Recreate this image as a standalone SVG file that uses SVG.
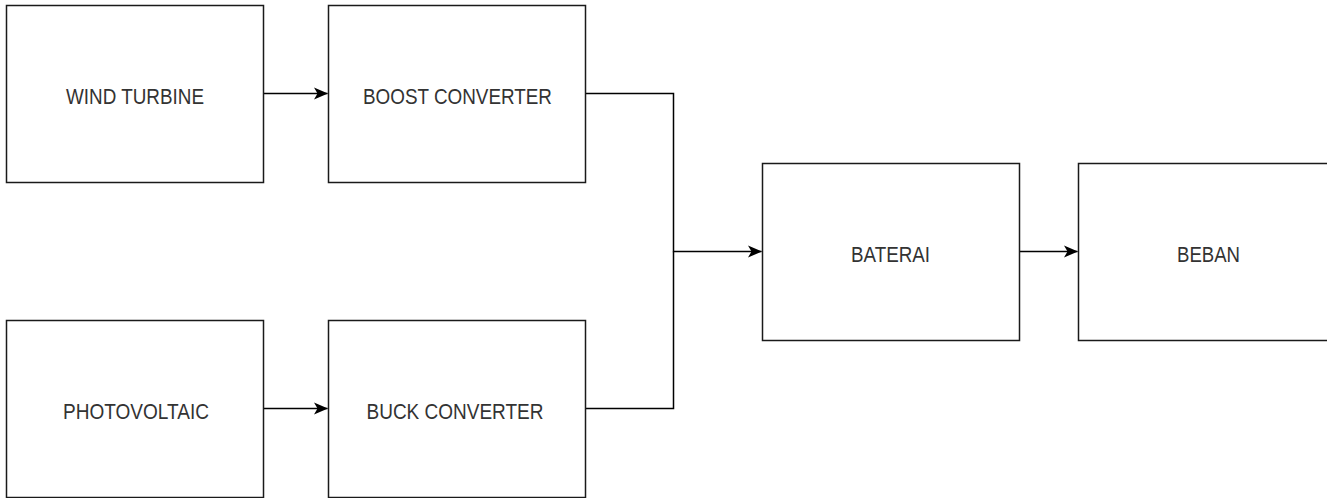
<svg xmlns="http://www.w3.org/2000/svg" width="1327" height="498" viewBox="0 0 1327 498">
<style>
.box{fill:#fff;stroke:#1a1a1a;stroke-width:1.5}
.lbl{font-family:"Liberation Sans",Arial,sans-serif;font-size:21.5px;fill:#333;text-anchor:middle}
.wire{fill:none;stroke:#000;stroke-width:1.5}
</style>
<defs>
<marker id="arr" viewBox="0 0 14 13" refX="13.5" refY="6.5" markerWidth="14" markerHeight="13" markerUnits="userSpaceOnUse" orient="auto">
<path d="M0,0.5 L14,6.5 L0,12.5 L3.5,6.5 Z" fill="#000"/>
</marker>
</defs>
<rect width="1327" height="498" fill="#fff"/>
<g id="connectors">
<path class="wire" d="M263.5,93.5 H327.5" marker-end="url(#arr)"/>
<path class="wire" d="M263.5,408.5 H327.5" marker-end="url(#arr)"/>
<path class="wire" d="M585.5,93.5 H673.5 V251.5 H761.5" marker-end="url(#arr)"/>
<path class="wire" d="M585.5,408.5 H673.5 V251.5"/>
<path class="wire" d="M1019.5,251.5 H1077.5" marker-end="url(#arr)"/>
</g>
<g id="wind-turbine">
<rect class="box" x="6.5" y="5.5" width="257" height="177"/>
<text class="lbl" x="135" y="104" textLength="138" lengthAdjust="spacingAndGlyphs">WIND TURBINE</text>
</g>
<g id="boost-converter">
<rect class="box" x="328.5" y="5.5" width="257" height="177"/>
<text class="lbl" x="457.5" y="104" textLength="189" lengthAdjust="spacingAndGlyphs">BOOST CONVERTER</text>
</g>
<g id="photovoltaic">
<rect class="box" x="6.5" y="320.5" width="257" height="177"/>
<text class="lbl" x="136" y="419" textLength="146" lengthAdjust="spacingAndGlyphs">PHOTOVOLTAIC</text>
</g>
<g id="buck-converter">
<rect class="box" x="328.5" y="320.5" width="257" height="177"/>
<text class="lbl" x="455" y="419" textLength="177" lengthAdjust="spacingAndGlyphs">BUCK CONVERTER</text>
</g>
<g id="baterai">
<rect class="box" x="762.5" y="163.5" width="257" height="177"/>
<text class="lbl" x="890.5" y="262" textLength="79" lengthAdjust="spacingAndGlyphs">BATERAI</text>
</g>
<g id="beban">
<rect class="box" x="1078.5" y="163.5" width="257" height="177"/>
<text class="lbl" x="1208.5" y="262" textLength="63" lengthAdjust="spacingAndGlyphs">BEBAN</text>
</g>
</svg>
